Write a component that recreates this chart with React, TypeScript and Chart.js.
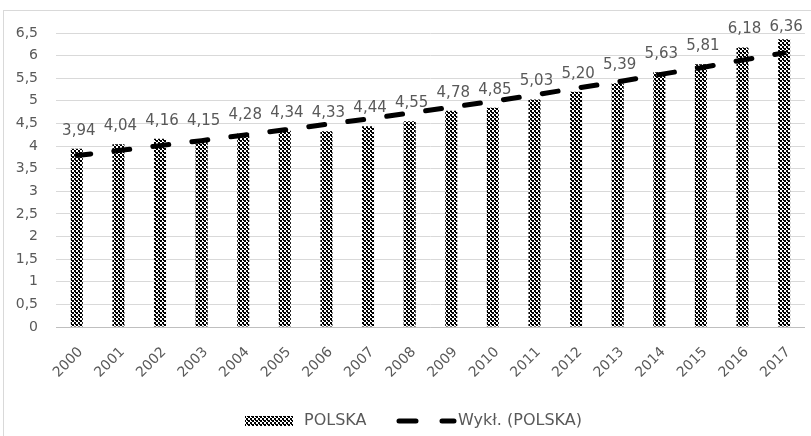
import React, { useEffect, useRef } from 'react';
import { Chart, registerables } from 'chart.js';

Chart.register(...registerables);

const years = ['2000', '2001', '2002', '2003', '2004', '2005', '2006', '2007', '2008', '2009', '2010', '2011', '2012', '2013', '2014', '2015', '2016', '2017'];
const polska = [3.94, 4.04, 4.16, 4.15, 4.28, 4.34, 4.33, 4.44, 4.55, 4.78, 4.85, 5.03, 5.2, 5.39, 5.63, 5.81, 6.18, 6.36];
const trendPolska = [3.79, 3.9, 4.01, 4.12, 4.24, 4.36, 4.48, 4.6, 4.73, 4.86, 4.99, 5.13, 5.28, 5.42, 5.58, 5.73, 5.9, 6.06];
const seriesLabels = ['POLSKA', 'Wykł. (POLSKA)'];
const yMin = 0;
const yMax = 6.5;
const yStep = 0.5;

const FONT = '"DejaVu Sans", sans-serif';
const TEXT = '#595959';

function makePattern(): CanvasPattern | string {
  const c = document.createElement('canvas');
  c.width = 4;
  c.height = 4;
  const g = c.getContext('2d');
  if (!g) return '#555';
  g.fillStyle = '#ffffff';
  g.fillRect(0, 0, 4, 4);
  g.fillStyle = '#000000';
  g.fillRect(0, 0, 2, 2);
  g.fillRect(2, 2, 2, 2);
  g.fillRect(3, 0, 1, 1);
  return g.createPattern(c, 'repeat') || '#555';
}

const fmt = (v: number, d?: number) => (d === undefined ? String(v) : v.toFixed(d)).replace('.', ',');

export default function App() {
  const ref = useRef<HTMLCanvasElement | null>(null);

  useEffect(() => {
    if (!ref.current) return;
    const pattern = makePattern();

    const framePlugin = {
      id: 'frame',
      beforeDraw(chart: any) {
        const ctx = chart.ctx;
        ctx.save();
        ctx.fillStyle = '#ffffff';
        ctx.fillRect(0, 0, chart.width, chart.height);
        ctx.strokeStyle = '#d9d9d9';
        ctx.lineWidth = 1;
        ctx.strokeRect(3.5, 10.5, 1000, 1000);
        ctx.restore();
      },
    };

    const labelPlugin = {
      id: 'barLabels',
      afterDatasetsDraw(chart: any) {
        const ctx = chart.ctx;
        const meta = chart.getDatasetMeta(1);
        ctx.save();
        ctx.font = `15px ${FONT}`;
        ctx.fillStyle = TEXT;
        ctx.textAlign = 'center';
        ctx.textBaseline = 'middle';
        meta.data.forEach((el: any, i: number) => {
          const y = Math.max(el.y - 18, chart.chartArea.top - 6);
          ctx.fillText(fmt(polska[i], 2), el.x + 2, y);
        });
        ctx.restore();
      },
    };

    const legendPlugin = {
      id: 'customLegend',
      afterDraw(chart: any) {
        const ctx = chart.ctx;
        const cy = 421;
        ctx.save();
        ctx.fillStyle = pattern as any;
        ctx.fillRect(245, cy - 5, 48, 10);
        ctx.font = `16px ${FONT}`;
        ctx.fillStyle = TEXT;
        ctx.textBaseline = 'middle';
        ctx.textAlign = 'left';
        ctx.fillText(seriesLabels[0], 304, cy);
        ctx.strokeStyle = '#000';
        ctx.lineWidth = 5;
        ctx.lineCap = 'round';
        ctx.beginPath();
        ctx.moveTo(399, cy);
        ctx.lineTo(416, cy);
        ctx.moveTo(442, cy);
        ctx.lineTo(454, cy);
        ctx.stroke();
        ctx.fillText(seriesLabels[1], 458, cy);
        ctx.restore();
      },
    };

    const chart = new Chart(ref.current, {
      type: 'bar',
      data: {
        labels: years,
        datasets: [
          {
            type: 'line',
            label: seriesLabels[1],
            data: trendPolska,
            borderColor: '#000000',
            borderWidth: 5,
            borderDash: [16, 23.3],
            borderDashOffset: 2,
            borderCapStyle: 'round',
            pointRadius: 0,
            fill: false,
            tension: 0,
            order: 0,
          } as any,
          {
            type: 'bar',
            label: seriesLabels[0],
            data: polska,
            backgroundColor: pattern as any,
            borderWidth: 0,
            categoryPercentage: 1,
            barPercentage: 0.29,
            order: 1,
          },
        ],
      },
      options: {
        responsive: false,
        animation: false,
        layout: { padding: { top: 33, left: 0, right: 0, bottom: 0 } },
        plugins: {
          legend: { display: false },
          tooltip: { enabled: false },
        },
        scales: {
          x: {
            offset: true,
            grid: { display: false, drawTicks: false },
            border: { display: true, color: '#bfbfbf', width: 1 },
            ticks: {
              color: TEXT,
              font: { family: FONT, size: 14 },
              maxRotation: 45,
              minRotation: 45,
              padding: 17,
              labelOffset: 4,
              autoSkip: false,
            },
            afterFit: (s: any) => {
              s.height = 109;
            },
          },
          y: {
            min: yMin,
            max: yMax,
            grid: { color: '#d9d9d9', drawTicks: false },
            border: { display: false },
            ticks: {
              stepSize: yStep,
              color: TEXT,
              font: { family: FONT, size: 14 },
              padding: 18,
              callback: (v: any) => fmt(Number(v)),
            },
            afterFit: (s: any) => {
              s.width = 56;
            },
          },
        },
      } as any,
      plugins: [framePlugin, labelPlugin, legendPlugin],
    });
    return () => chart.destroy();
  }, []);

  return (
    <div style={{ position: 'absolute', left: 0, top: 0, width: 811, height: 436, overflow: 'hidden', background: '#fff' }}>
      <canvas ref={ref} width={813} height={436} style={{ display: 'block' }} />
    </div>
  );
}
